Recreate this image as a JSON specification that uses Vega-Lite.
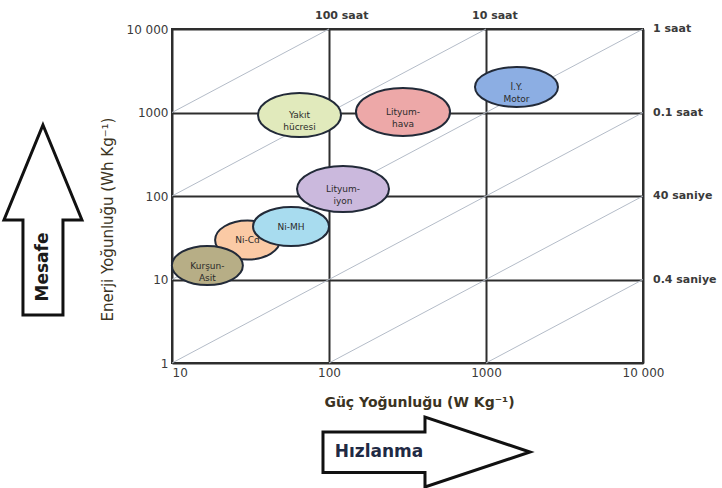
{
  "$schema": "https://vega.github.io/schema/vega-lite/v6.json",
  "width": 471,
  "height": 334,
  "autosize": {"type": "none"},
  "padding": {"left": 172, "top": 29, "right": 79, "bottom": 125},
  "background": "white",
  "config": {
    "font": "DejaVu Sans",
    "view": {"stroke": "#2e2e2e", "strokeWidth": 2},
    "axis": {"domain": false, "ticks": false}
  },
  "datasets": {
    "zaman": [
      {"ad": "100 saat", "P": 10, "E": 1000, "P2": 100, "E2": 10000},
      {"ad": "10 saat", "P": 10, "E": 100, "P2": 1000, "E2": 10000},
      {"ad": "1 saat", "P": 10, "E": 10, "P2": 10000, "E2": 10000},
      {"ad": "0.1 saat", "P": 10, "E": 1, "P2": 10000, "E2": 1000},
      {"ad": "40 saniye", "P": 100, "E": 1, "P2": 10000, "E2": 100},
      {"ad": "0.4 saniye", "P": 1000, "E": 1, "P2": 10000, "E2": 10}
    ],
    "kaynaklar": [
      {"tur": "Lityum-iyon", "etiket": "Lityum-\niyon", "P": 122.8, "E": 121},
      {"tur": "Yakıt hücresi", "etiket": "Yakıt\nhücresi", "P": 64.9, "E": 933},
      {"tur": "Lityum-hava", "etiket": "Lityum-\nhava", "P": 296, "E": 1014},
      {"tur": "İ.Y. Motor", "etiket": "İ.Y.\nMotor", "P": 1564, "E": 2020},
      {"tur": "Ni-Cd", "etiket": "Ni-Cd", "P": 30.3, "E": 29.7},
      {"tur": "Kurşun-Asit", "etiket": "Kurşun-\nAsit", "P": 16.8, "E": 14.7},
      {"tur": "Ni-MH", "etiket": "Ni-MH", "P": 57.3, "E": 43.1}
    ],
    "oklar": [
      {"ok": "Mesafe", "P": 1.507, "E": 51.6},
      {"ok": "Hızlanma", "P": 417.8, "E": 0.0859}
    ],
    "okYazilari": [
      {"yazi": "Mesafe", "P": 1.507, "E": 14.1},
      {"yazi": "Hızlanma", "P": 208.2, "E": 0.0859}
    ]
  },
  "encoding": {
    "x": {
      "field": "P",
      "type": "quantitative",
      "scale": {"type": "log", "domain": [10, 10000], "nice": false},
      "axis": {
        "title": "Güç Yoğunluğu (W Kg⁻¹)",
        "values": [10, 100, 1000, 10000],
        "labelExpr": "datum.value >= 10000 ? '10 000' : format(datum.value, 'd')",
        "labelFlush": false,
        "labelAlign": {"condition": {"test": "datum.value <= 10", "value": "left"}, "value": "center"},
        "labelPadding": 4,
        "labelFontSize": 12,
        "labelColor": "#3a3a3a",
        "grid": true,
        "gridColor": "#2e2e2e",
        "gridWidth": 2,
        "gridOpacity": 1,
        "titleX": 247,
        "titleY": 39,
        "titleBaseline": "middle",
        "titleFontSize": 14,
        "titleFontWeight": "bold",
        "titleColor": "#3b3322"
      }
    },
    "y": {
      "field": "E",
      "type": "quantitative",
      "scale": {"type": "log", "domain": [1, 10000], "nice": false},
      "axis": {
        "title": "Enerji Yoğunluğu    (Wh Kg⁻¹)",
        "values": [1, 10, 100, 1000, 10000],
        "labelExpr": "datum.value >= 10000 ? '10 000' : format(datum.value, 'd')",
        "labelPadding": 4,
        "labelFontSize": 12,
        "labelColor": "#3a3a3a",
        "grid": true,
        "gridColor": "#2e2e2e",
        "gridWidth": 2,
        "gridOpacity": 1,
        "titleX": -65,
        "titleY": 190,
        "titleBaseline": "middle",
        "titleFontSize": 15,
        "titleFontWeight": "normal",
        "titleColor": "#3b3322"
      }
    }
  },
  "layer": [
    {
      "data": {"name": "zaman"},
      "mark": {"type": "rule", "color": "#b4bcc8", "strokeWidth": 1},
      "encoding": {
        "x2": {"field": "P2"},
        "y2": {"field": "E2"}
      }
    },
    {
      "data": {"name": "kaynaklar"},
      "mark": {"type": "point", "filled": true, "opacity": 1, "size": 10000, "stroke": "#222a38", "strokeWidth": 2},
      "encoding": {
        "shape": {
          "field": "tur",
          "type": "nominal",
          "legend": null,
          "scale": {
            "domain": ["Lityum-iyon", "Yakıt hücresi", "Lityum-hava", "İ.Y. Motor", "Ni-Cd", "Kurşun-Asit", "Ni-MH"],
            "range": [
              "M-0.92,0C-0.92,-0.254 -0.508,-0.46 0,-0.46C0.508,-0.46 0.92,-0.254 0.92,0C0.92,0.254 0.508,0.46 0,0.46C-0.508,0.46 -0.92,0.254 -0.92,0Z",
              "M-0.83,0C-0.83,-0.243 -0.458,-0.44 0,-0.44C0.458,-0.44 0.83,-0.243 0.83,0C0.83,0.243 0.458,0.44 0,0.44C-0.458,0.44 -0.83,0.243 -0.83,0Z",
              "M-0.94,0C-0.94,-0.265 -0.519,-0.48 0,-0.48C0.519,-0.48 0.94,-0.265 0.94,0C0.94,0.265 0.519,0.48 0,0.48C-0.519,0.48 -0.94,0.265 -0.94,0Z",
              "M-0.83,0C-0.83,-0.221 -0.458,-0.4 0,-0.4C0.458,-0.4 0.83,-0.221 0.83,0C0.83,0.221 0.458,0.4 0,0.4C-0.458,0.4 -0.83,0.221 -0.83,0Z",
              "M-0.65,0C-0.65,-0.215 -0.359,-0.39 0,-0.39C0.359,-0.39 0.65,-0.215 0.65,0C0.65,0.215 0.359,0.39 0,0.39C-0.359,0.39 -0.65,0.215 -0.65,0Z",
              "M-0.71,0C-0.71,-0.215 -0.392,-0.39 0,-0.39C0.392,-0.39 0.71,-0.215 0.71,0C0.71,0.215 0.392,0.39 0,0.39C-0.392,0.39 -0.71,0.215 -0.71,0Z",
              "M-0.76,0C-0.76,-0.215 -0.42,-0.39 0,-0.39C0.42,-0.39 0.76,-0.215 0.76,0C0.76,0.215 0.42,0.39 0,0.39C-0.42,0.39 -0.76,0.215 -0.76,0Z"
            ]
          }
        },
        "color": {
          "field": "tur",
          "type": "nominal",
          "legend": null,
          "scale": {
            "domain": ["Lityum-iyon", "Yakıt hücresi", "Lityum-hava", "İ.Y. Motor", "Ni-Cd", "Kurşun-Asit", "Ni-MH"],
            "range": ["#cbb9dd", "#e1eabc", "#eda8a8", "#8caee3", "#fbcaa5", "#b7ae86", "#a8dcef"]
          }
        }
      }
    },
    {
      "data": {"name": "kaynaklar"},
      "mark": {"type": "text", "fontSize": 9, "color": "#2b2b2b", "lineBreak": "\n", "lineHeight": 12, "align": "center", "baseline": "middle"},
      "encoding": {"text": {"field": "etiket"}}
    },
    {
      "data": {"name": "zaman"},
      "transform": [{"filter": "datum.P2 < 10000"}],
      "mark": {"type": "text", "fontSize": 11, "fontWeight": "bold", "color": "#3a3a3a", "align": "left", "baseline": "middle", "dx": -14, "dy": -13},
      "encoding": {
        "x": {"field": "P2", "type": "quantitative"},
        "y": {"field": "E2", "type": "quantitative"},
        "text": {"field": "ad"}
      }
    },
    {
      "data": {"name": "zaman"},
      "transform": [{"filter": "datum.P2 >= 10000"}],
      "mark": {"type": "text", "fontSize": 11, "fontWeight": "bold", "color": "#3a3a3a", "align": "left", "baseline": "middle", "dx": 10},
      "encoding": {
        "x": {"field": "P2", "type": "quantitative"},
        "y": {"field": "E2", "type": "quantitative"},
        "text": {"field": "ad"}
      }
    },
    {
      "data": {"name": "oklar"},
      "transform": [{"filter": "datum.ok == 'Mesafe'"}],
      "mark": {"type": "point", "clip": false, "filled": true, "opacity": 1, "fill": "white", "stroke": "#111111", "strokeWidth": 3, "size": 10000,
        "shape": "M0,-1.9L0.78,0L0.4,0L0.4,1.9L-0.4,1.9L-0.4,0L-0.78,0Z"}
    },
    {
      "data": {"name": "oklar"},
      "transform": [{"filter": "datum.ok == 'Hızlanma'"}],
      "mark": {"type": "point", "clip": false, "filled": true, "opacity": 1, "fill": "white", "stroke": "#111111", "strokeWidth": 3, "size": 10000,
        "shape": "M-2.07,-0.4L-0.03,-0.4L-0.03,-0.7L2.07,0L-0.03,0.7L-0.03,0.41L-2.07,0.41Z"}
    },
    {
      "data": {"name": "okYazilari"},
      "transform": [{"filter": "datum.yazi == 'Mesafe'"}],
      "mark": {"type": "text", "clip": false, "angle": 270, "fontSize": 17, "fontWeight": "bold", "color": "#1a1a1a", "align": "center", "baseline": "middle"},
      "encoding": {"text": {"field": "yazi"}}
    },
    {
      "data": {"name": "okYazilari"},
      "transform": [{"filter": "datum.yazi == 'Hızlanma'"}],
      "mark": {"type": "text", "clip": false, "fontSize": 17, "fontWeight": "bold", "color": "#1f2a44", "align": "center", "baseline": "middle"},
      "encoding": {"text": {"field": "yazi"}}
    }
  ]
}
